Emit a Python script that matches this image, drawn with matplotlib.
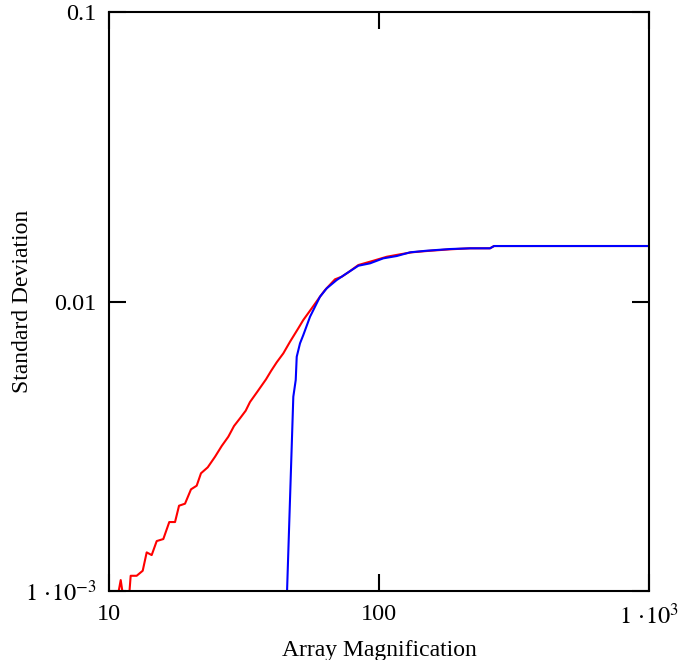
import numpy as np
import matplotlib
matplotlib.use("Agg")
import matplotlib.pyplot as plt

plt.rcParams['font.family'] = ['Liberation Serif', 'DejaVu Serif']
plt.rcParams['mathtext.fontset'] = 'stix'

# red curve (full array)
red_mag = [10.82, 11.05, 11.24, 11.89, 12.03, 12.66, 13.33, 13.79, 14.39, 15.02,
           15.89, 16.72, 17.56, 18.17, 19.12, 20.12, 21.12, 21.91, 23.21, 24.70,
           26.15, 27.66, 29.04, 30.56, 32.08, 33.28, 35.42, 38.15, 39.81, 41.79,
           44.22, 46.81, 50.24, 52.43, 56.34, 60.45, 63.10, 68.71, 72.77, 76.98,
           83.82, 95.25, 106.8, 119.6, 132.2, 150.2, 183.2, 217.3, 257.7, 266.7, 1000]
red_std = [0.00098, 0.001091, 0.00098, 0.00098, 0.001129, 0.001129, 0.001175, 0.001360, 0.001331, 0.001488,
           0.001512, 0.001731, 0.001731, 0.001971, 0.002003, 0.002245, 0.002311, 0.002551, 0.002675, 0.002910,
           0.003170, 0.003412, 0.003715, 0.003950, 0.004196, 0.004497, 0.004879, 0.005386, 0.005753, 0.006166,
           0.006622, 0.007262, 0.008081, 0.008634, 0.009474, 0.010390, 0.010957, 0.011932, 0.012182, 0.012616,
           0.013367, 0.013831, 0.014277, 0.014555, 0.014788, 0.014942, 0.015146, 0.015268, 0.01527, 0.015548, 0.01555]

# blue curve
blue_mag = [45.6, 48.15, 49.15, 49.57, 50.98, 52.43, 55.53, 60.45, 64.02, 69.72,
            75.93, 83.82, 92.62, 103.7, 116.3, 130.3, 150.2, 183.2, 217.3, 257.7, 266.7, 1000]
blue_std = [0.00097, 0.004689, 0.005356, 0.006446, 0.007170, 0.007659, 0.008861, 0.010390, 0.011107, 0.011866,
            0.012515, 0.013293, 0.013548, 0.014098, 0.014360, 0.014788, 0.014980, 0.015181, 0.015268, 0.01527, 0.015548, 0.01555]

x_ticks = [10, 100, 1000]
x_labels = ['10', '100', r'$1\,\cdot\!10^{3}$']
y_ticks = [0.001, 0.01, 0.1]
y_labels = [r'$1\,\cdot\!10^{-3}$', '0.01', '0.1']

fig = plt.figure(figsize=(6.86, 6.60), dpi=100)
ax = fig.add_axes([0.1589, 0.1045, 0.7872, 0.8773])

ax.plot(red_mag, red_std, color='#ff0000', lw=1.5)
ax.plot(blue_mag, blue_std, color='#0000ff', lw=1.5)

ax.set_xscale('log')
ax.set_yscale('log')
ax.set_xlim(10, 1000)
ax.set_ylim(0.001, 0.1)
ax.set_xticks(x_ticks)
ax.set_xticklabels(x_labels)
ax.set_yticks(y_ticks)
ax.set_yticklabels(y_labels)
ax.minorticks_off()
ax.tick_params(direction='in', length=12, width=1.5, top=True, right=True,
               labelsize=17.5, colors='black')
ax.tick_params(axis='x', pad=9)
ax.tick_params(axis='y', pad=9)

for s in ax.spines.values():
    s.set_linewidth(1.5)

ax.set_xlabel('Array Magnification', fontsize=17, labelpad=8)
ax.set_ylabel('Standard Deviation', fontsize=17, va='center')
ax.yaxis.set_label_coords(-0.161, 0.5)

fig.savefig('out.png', dpi=100)
